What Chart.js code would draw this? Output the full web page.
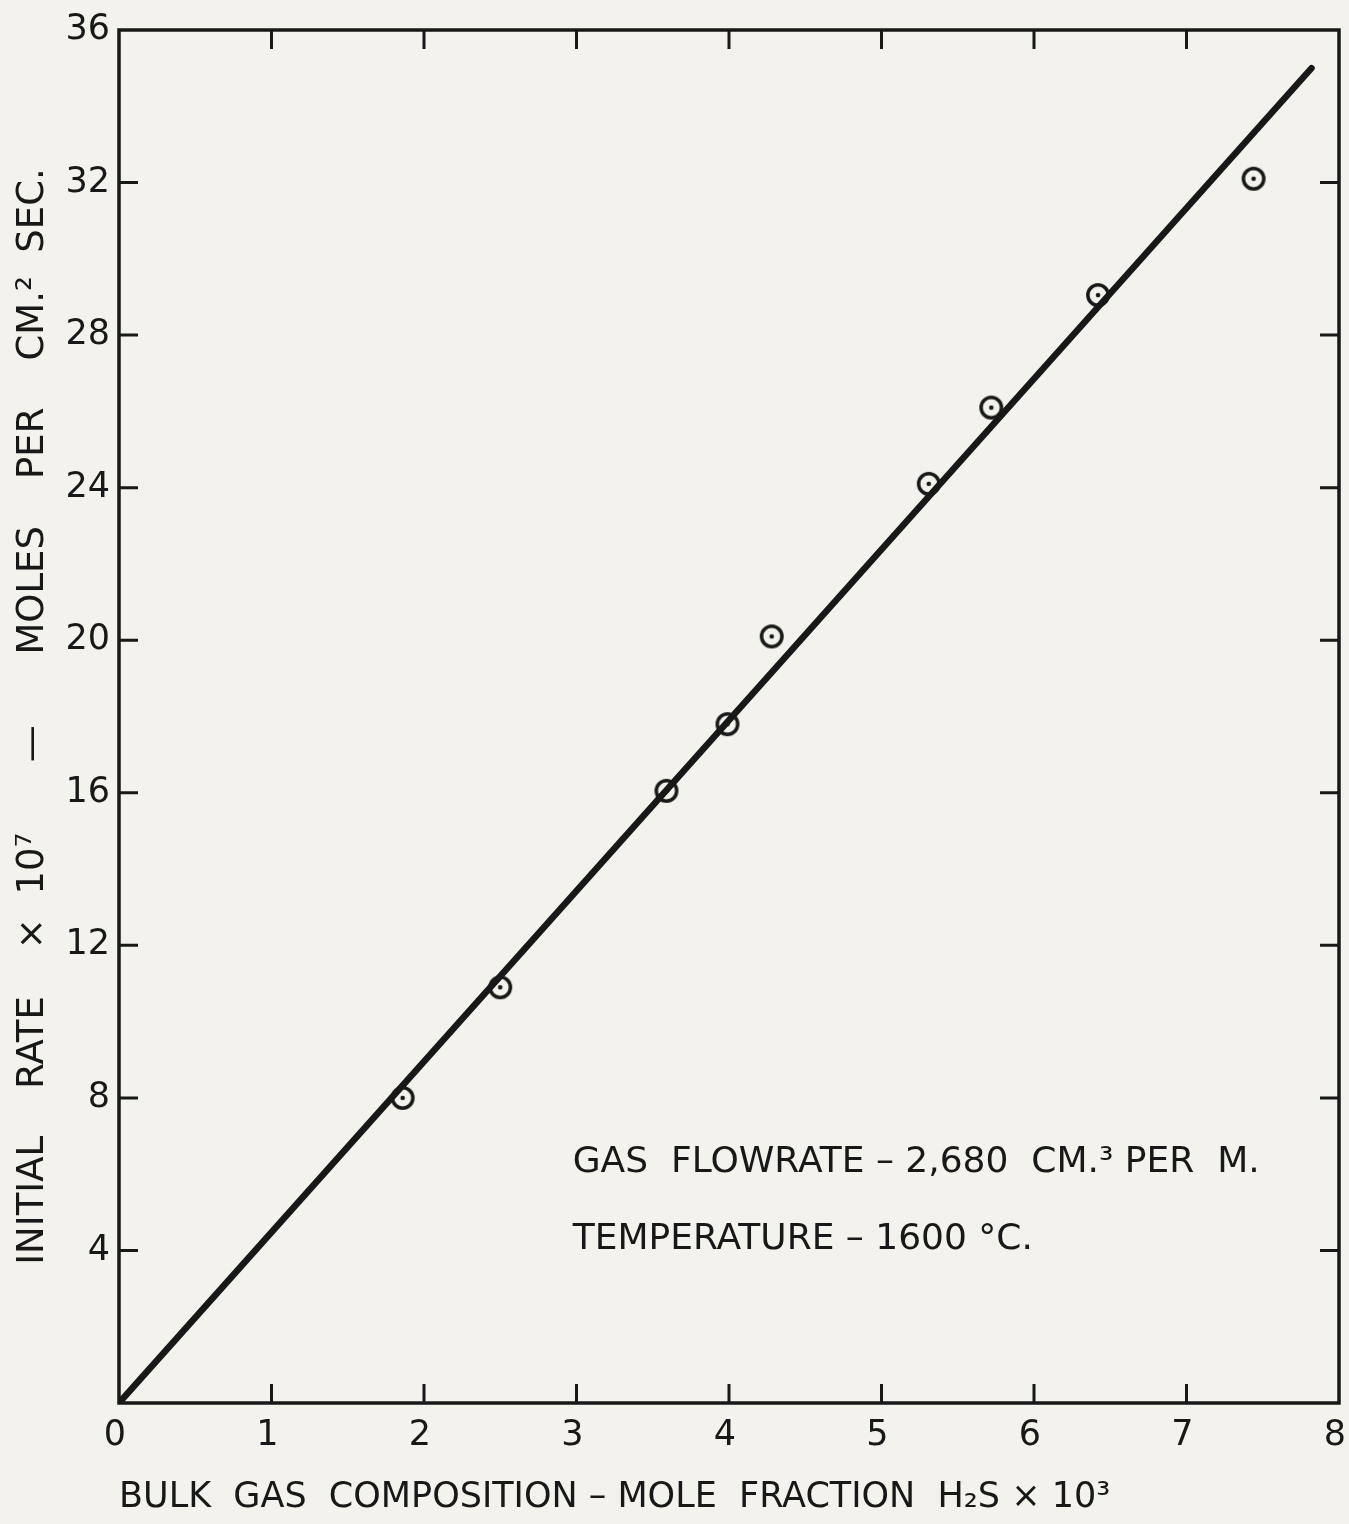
<!DOCTYPE html>
<html>
<head>
<meta charset="utf-8">
<script src="https://cdn.jsdelivr.net/npm/chart.js@4.4.1/dist/chart.umd.min.js"></script>
<style>
  html, body { margin: 0; padding: 0; background: #f3f2ec; }
  #wrap { width: 1349px; height: 1524px; }
</style>
</head>
<body>
<div id="wrap"><canvas id="rateChart" width="1349" height="1524"></canvas></div>
<script>
const composition = [1.86, 2.50, 3.59, 3.99, 4.28, 5.31, 5.72, 6.42, 7.44];
const initialRate = [8.0, 10.9, 16.05, 17.8, 20.1, 24.1, 26.1, 29.05, 32.1];

// straight line drawn through them
const fitX = [0, 7.82];
const fitY = [0, 35.0];

const xTicks = [0, 1, 2, 3, 4, 5, 6, 7, 8];
const yTicks = [0, 4, 8, 12, 16, 20, 24, 28, 32, 36];

const xTitle = 'BULK  GAS  COMPOSITION – MOLE  FRACTION  H\u2082S \u00D7 10\u00B3';
const yTitle = 'INITIAL    RATE    \u00D7  10\u2077      \u2014      MOLES    PER    CM.\u00B2  SEC.';
const notes = ['GAS  FLOWRATE – 2,680  CM.\u00B3 PER  M.', 'TEMPERATURE – 1600 °C.'];

const ink = '#181818';
const font = 'DejaVu Sans';

// circle with a dot in the middle
const marker = document.createElement('canvas');
marker.width = 30; marker.height = 30;
(function () {
  const m = marker.getContext('2d');
  m.strokeStyle = ink;
  m.lineWidth = 3.5;
  m.beginPath();
  m.arc(15, 15, 10.2, 0, Math.PI * 2);
  m.stroke();
  m.fillStyle = ink;
  m.beginPath();
  m.arc(15, 15, 2.3, 0, Math.PI * 2);
  m.fill();
})();

// frame, inward ticks on all four sides, and the two notes
const framePlugin = {
  id: 'frame',
  beforeDraw(chart) {
    const ctx = chart.ctx;
    ctx.save();
    ctx.fillStyle = '#f3f2ec';
    ctx.fillRect(0, 0, chart.width, chart.height);
    ctx.restore();
  },
  afterDatasetsDraw(chart) {
    const { ctx, chartArea: a, scales } = chart;
    ctx.save();
    ctx.strokeStyle = ink;
    ctx.lineWidth = 3.5;
    ctx.strokeRect(a.left, a.top, a.right - a.left, a.bottom - a.top);

    ctx.lineWidth = 3;
    const len = 19;
    ctx.beginPath();
    xTicks.slice(1, -1).forEach(v => {
      const px = scales.x.getPixelForValue(v);
      ctx.moveTo(px, a.bottom); ctx.lineTo(px, a.bottom - len);
      ctx.moveTo(px, a.top); ctx.lineTo(px, a.top + len);
    });
    yTicks.slice(1, -1).forEach(v => {
      const py = scales.y.getPixelForValue(v);
      ctx.moveTo(a.left, py); ctx.lineTo(a.left + len, py);
      ctx.moveTo(a.right, py); ctx.lineTo(a.right - len, py);
    });
    ctx.stroke();

    ctx.fillStyle = ink;
    ctx.font = '36px "' + font + '"';
    ctx.textBaseline = 'middle';
    ctx.textAlign = 'left';
    const nx = scales.x.getPixelForValue(2.975);
    ctx.fillText(notes[0], nx, scales.y.getPixelForValue(6.3));
    ctx.fillText(notes[1], nx, scales.y.getPixelForValue(4.28));
    ctx.restore();
  }
};

new Chart(document.getElementById('rateChart'), {
  type: 'scatter',
  data: {
    datasets: [
      {
        label: 'line',
        data: fitX.map((x, i) => ({ x: x, y: fitY[i] })),
        showLine: true,
        borderColor: ink,
        borderWidth: 6.5,
        borderCapStyle: 'round',
        pointRadius: 0
      },
      {
        label: 'data',
        data: composition.map((x, i) => ({ x: x, y: initialRate[i] })),
        pointStyle: marker,
        pointRadius: 15
      }
    ]
  },
  plugins: [framePlugin],
  options: {
    responsive: false,
    animation: false,
    layout: { autoPadding: false, padding: { top: 30, right: 10, left: 0, bottom: 0 } },
    plugins: { legend: { display: false }, tooltip: { enabled: false } },
    scales: {
      x: {
        type: 'linear',
        min: 0, max: 8,
        afterBuildTicks: s => { s.ticks = xTicks.map(v => ({ value: v })); },
        afterFit: s => { s.height = 121; s.paddingLeft = 0; s.paddingRight = 0; },
        grid: { display: false, drawTicks: false },
        border: { display: false },
        ticks: { color: ink, padding: 12, labelOffset: -4, font: { family: font, size: 35 } },
        title: {
          display: true, text: xTitle, align: 'start', color: ink,
          font: { family: font, size: 35 }, padding: { top: 0, bottom: 5 }
        }
      },
      y: {
        type: 'linear',
        min: 0, max: 36,
        afterBuildTicks: s => { s.ticks = yTicks.map(v => ({ value: v })); },
        afterFit: s => { s.width = 119; s.paddingTop = 0; s.paddingBottom = 0; },
        grid: { display: false, drawTicks: false },
        border: { display: false },
        ticks: {
          color: ink, padding: 9, font: { family: font, size: 35 },
          callback: v => (v === 0 ? '' : v)
        },
        title: {
          display: true, text: yTitle, color: ink,
          font: { family: font, size: 37 }, padding: { top: 11, bottom: 0 }
        }
      }
    }
  }
});
</script>
</body>
</html>
